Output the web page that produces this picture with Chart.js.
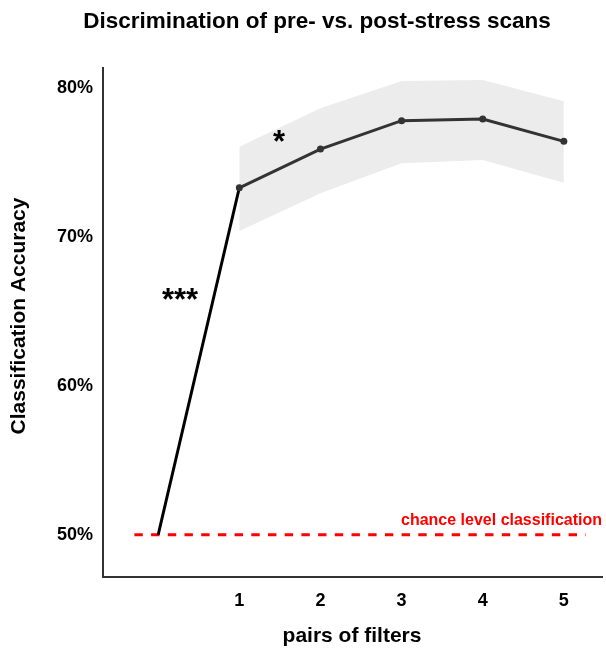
<!DOCTYPE html>
<html>
<head>
<meta charset="utf-8">
<script src="https://cdn.jsdelivr.net/npm/chart.js@4"></script>
<style>
  html, body { margin: 0; padding: 0; background: #fff; }
  #wrap { width: 606px; height: 654px; }
</style>
</head>
<body>
<div id="wrap"><canvas id="chart"></canvas></div>
<script>
const pairs = [1, 2, 3, 4, 5];
const accuracy = [73.32, 75.92, 77.83, 77.94, 76.44];
const bandUpper = [76.08, 78.66, 80.5, 80.56, 79.13];
const bandLower = [70.41, 72.95, 74.96, 75.18, 73.66];
const jumpX = [0, 1];
const jumpY = [50, 73.32];
const chanceLevel = 50;
const chanceX = [-0.293, 5.27];
const yTicks = [50, 60, 70, 80];

const FONT = "'Liberation Sans', Arial, Helvetica, sans-serif";

const toPts = (xs, ys) => xs.map((x, i) => ({ x: x, y: ys[i] }));

// text drawn on top: title, axis titles, star marks, chance label
const labelsPlugin = {
    id: "labels",
    afterDraw(chart) {
        const ctx = chart.ctx;
        const xs = chart.scales.x;
        const ys = chart.scales.y;
        ctx.save();
        ctx.fillStyle = "#000";
        ctx.textAlign = "center";
        ctx.textBaseline = "middle";
        ctx.font = "bold 22.5px " + FONT;
        ctx.fillText("Discrimination of pre- vs. post-stress scans", 317, 22);
        ctx.font = "bold 21px " + FONT;
        ctx.fillText("pairs of filters", 352, 636);
        ctx.save();
        ctx.translate(19, 316);
        ctx.rotate(-Math.PI / 2);
        ctx.fillText("Classification Accuracy", 0, 0);
        ctx.restore();

        ctx.font = "bold 31px " + FONT;
        ctx.textBaseline = "alphabetic";
        ctx.fillText("***", xs.getPixelForValue(0.27), ys.getPixelForValue(65.1));
        ctx.fillText("*", xs.getPixelForValue(1.49), ys.getPixelForValue(75.75));

        ctx.fillStyle = "#ff0000";
        ctx.font = "bold 16px " + FONT;
        ctx.textAlign = "right";
        ctx.fillText("chance level classification", 602, 525);
        ctx.restore();
    }
};

new Chart(document.getElementById("chart"), {
    type: "line",
    data: {
        datasets: [
            {
                data: toPts(pairs, bandUpper),
                borderWidth: 0,
                pointRadius: 0,
                backgroundColor: "#ececec",
                fill: "+1",
                tension: 0,
                order: 5
            },
            {
                data: toPts(pairs, bandLower),
                borderWidth: 0,
                pointRadius: 0,
                fill: false,
                tension: 0,
                order: 5
            },
            {
                data: toPts(chanceX, [chanceLevel, chanceLevel]),
                borderColor: "#ff0000",
                borderWidth: 3,
                borderDash: [8.4, 8.3],
                pointRadius: 0,
                fill: false,
                order: 3
            },
            {
                data: toPts(jumpX, jumpY),
                borderColor: "#000",
                borderWidth: 3,
                pointRadius: 0,
                fill: false,
                order: 2
            },
            {
                data: toPts(pairs, accuracy),
                borderColor: "#333",
                borderWidth: 3,
                pointRadius: 3.5,
                pointBackgroundColor: "#333",
                pointBorderWidth: 0,
                fill: false,
                tension: 0,
                order: 1
            }
        ]
    },
    options: {
        responsive: true,
        maintainAspectRatio: false,
        animation: false,
        layout: { padding: { top: 68, right: 0, left: 0, bottom: 0 } },
        plugins: {
            legend: { display: false },
            tooltip: { enabled: false },
            title: { display: false }
        },
        scales: {
            x: {
                type: "linear",
                min: -0.68,
                max: 5.47,
                afterBuildTicks: (s) => { s.ticks = pairs.map(v => ({ value: v })); },
                afterFit: (s) => { s.height = 654 - 577; },
                grid: { display: false, drawTicks: false },
                border: { display: true, color: "#333", width: 2 },
                ticks: {
                    color: "#000",
                    padding: 13,
                    font: { family: FONT, size: 18, weight: "bold" },
                    callback: (v) => String(v)
                }
            },
            y: {
                min: 47.16,
                max: 81.37,
                afterBuildTicks: (s) => { s.ticks = yTicks.map(v => ({ value: v })); },
                afterFit: (s) => { s.width = 103; },
                grid: { display: false, drawTicks: false },
                border: { display: true, color: "#333", width: 2 },
                ticks: {
                    color: "#000",
                    padding: 10,
                    font: { family: FONT, size: 18, weight: "bold" },
                    callback: (v) => v + "%"
                }
            }
        }
    },
    plugins: [labelsPlugin]
});
</script>
</body>
</html>
